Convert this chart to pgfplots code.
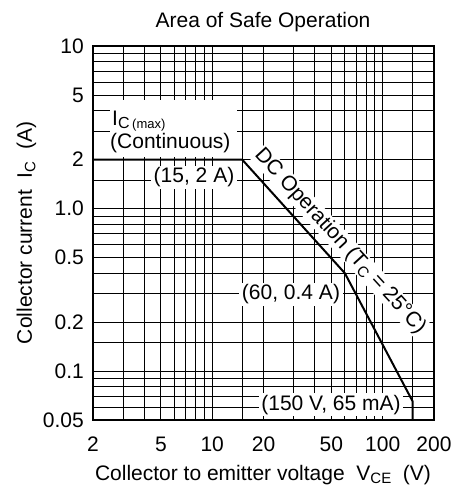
\documentclass[border=0pt]{standalone}
\usepackage{pgfplots}
\pgfplotsset{compat=1.18}
\usepackage{fontspec}
\setmainfont{Liberation Sans}
\newcommand{\sub}[1]{\raisebox{-3.5pt}{\fontsize{15}{15}\selectfont #1}}
\begin{document}
\begin{tikzpicture}[font=\fontsize{21}{24}\selectfont]
\path[use as bounding box] (-93pt,-66pt) rectangle (360pt,420pt);
\begin{axis}[
 at={(0pt,0pt)}, anchor=south west,
 scale only axis, width=341pt, height=374pt,
 xmode=log, ymode=log,
 xmin=2, xmax=200, ymin=0.05, ymax=10,
 xtick={2,5,10,20,50,100,200},
 xticklabels={2,5,10,20,50,100,200},
 minor xtick={3,4,6,7,8,9,15,30,40,60,70,80,90,150},
 ytick={0.05,0.1,0.2,0.5,1,2,5,10},
 yticklabels={0.05,0.1,0.2,0.5,1.0,2,5,10},
 minor ytick={0.06,0.07,0.08,0.09,0.15,0.3,0.4,0.6,0.7,0.8,0.9,1.5,3,4,6,7,8,9},
 grid=both,
 major grid style={black, line width=0.8pt},
 minor grid style={black, line width=0.8pt},
 major tick length=0pt, minor tick length=0pt,
 axis line style={black, line width=1.3pt},
 xticklabel style={anchor=base, yshift=-31pt, inner sep=0pt},
 yticklabel style={anchor=east, xshift=-9pt, inner sep=0pt},
 /pgf/number format/assume math mode=true,
 clip=false,
]
\addplot[black, line width=2pt] coordinates {(2,2) (15,2) (60,0.4) (150,0.065) (150,0.05)};
\fill[white] (rel axis cs:0.0499,0.7032) rectangle (rel axis cs:0.4223,0.8556);
\node[anchor=base west, inner sep=0pt] at (rel axis cs:0.0557,0.7861) {I\raisebox{-2.5pt}{\fontsize{16}{16}\selectfont C\,\fontsize{13}{13}\selectfont(max)}};
\node[anchor=base west, inner sep=0pt] at (rel axis cs:0.0499,0.7246) {(Continuous)};
\node[anchor=base, fill=white, inner xsep=3pt, inner ysep=2pt] at (rel axis cs:0.2962,0.6337) {(15, 2 A)};
\node[anchor=base, fill=white, inner xsep=3pt, inner ysep=2pt] at (rel axis cs:0.5806,0.3209) {(60, 0.4 A)};
\node[anchor=base, fill=white, inner xsep=2pt, inner ysep=2pt] at (rel axis cs:0.698,0.0267) {(150 V, 65 mA)};
\node[rotate=-47.5, fill=white, inner sep=1pt] at (rel axis cs:0.7250,0.4780) {DC Operation (T\sub{C} = 25\textdegree C)};
\end{axis}
\node[anchor=base] at (170pt,392pt) {Area of Safe Operation};
\node[anchor=base] at (170pt,-60pt) {Collector to emitter voltage\ \ V\sub{CE}\ \ (V)};
\node[anchor=base, rotate=90] at (-61pt,187pt) {Collector current\ \ I\sub{C}\ \ (A)};
\end{tikzpicture}
\end{document}
